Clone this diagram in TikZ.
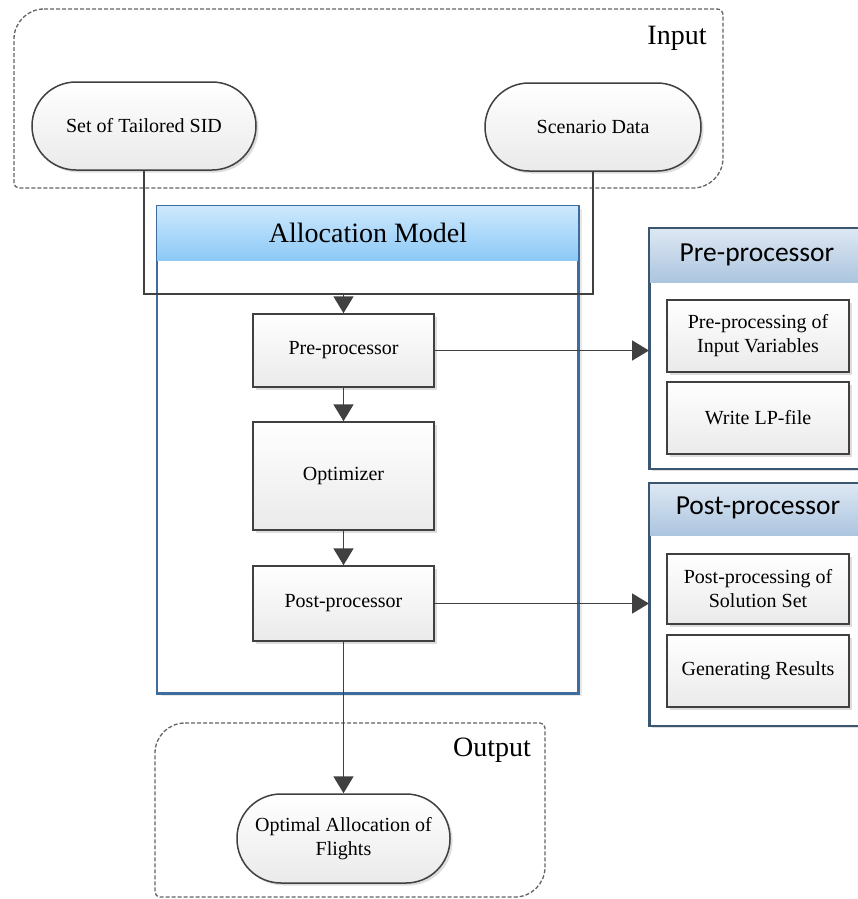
\documentclass[tikz,border=0pt]{standalone}
\usepackage{fontspec}
\setmainfont{Liberation Serif}
\newfontfamily\headsans{Carlito}
\usetikzlibrary{arrows.meta,shadows,calc}

\definecolor{linecol}{RGB}{64,64,64}
\definecolor{boxbot}{RGB}{234,234,234}
\definecolor{dashcol}{RGB}{100,100,100}
\definecolor{modelborder}{RGB}{62,108,156}
\definecolor{modeltop}{RGB}{206,233,252}
\definecolor{modelbot}{RGB}{140,201,247}
\definecolor{panelborder}{RGB}{58,86,112}
\definecolor{paneltop}{RGB}{222,232,243}
\definecolor{panelbot}{RGB}{172,197,223}

\tikzset{
  conn/.style={draw=linecol, line width=1.7pt},
  arr/.style={conn, -{Triangle[width=20pt,length=17pt]}},
  softshadow/.style={drop shadow={opacity=0.22, shadow xshift=2.5pt, shadow yshift=-2.5pt, fill=black!60}},
  stepbox/.style={draw=linecol, line width=1.5pt, top color=white, bottom color=boxbot,
    softshadow, inner sep=0pt, align=center, font=\rmfamily\fontsize{20}{24}\selectfont},
  pill/.style={stepbox, rounded corners=44pt, minimum height=88pt},
  groupline/.style={draw=dashcol, line width=1.3pt, dash pattern=on 4pt off 2pt},
  biglabel/.style={font=\rmfamily\fontsize{28}{32}\selectfont, inner sep=0pt},
  panelhead/.style={font=\headsans\fontsize{27.5}{30}\selectfont, inner sep=0pt},
}

\begin{document}
\begin{tikzpicture}[x=1pt,y=-1pt]
\clip (0,0) rectangle (858,899);
\fill[white] (0,0) rectangle (858,899);

% ---------- Input group (y grows downward, so arc angles are mirrored) ----------
\draw[groupline] (44,9) -- (717,9) arc[start angle=-90,end angle=0,radius=6]
  -- (723,158) arc[start angle=0,end angle=90,radius=30]
  -- (19,188) arc[start angle=90,end angle=180,radius=5]
  -- (14,39) arc[start angle=180,end angle=270,radius=30] -- cycle;
\node[biglabel] (inlabel) at (677,38) {Input};
\node[pill, minimum width=224pt] (sid) at (144,126) {Set of Tailored SID};
\node[pill, minimum width=216pt] (scen) at (593,127) {Scenario Data};

% ---------- Output group ----------
\draw[groupline] (185,723) -- (540,723) arc[start angle=-90,end angle=0,radius=5]
  -- (545,867) arc[start angle=0,end angle=90,radius=30]
  -- (160,897) arc[start angle=90,end angle=180,radius=5]
  -- (155,753) arc[start angle=180,end angle=270,radius=30] -- cycle;
\node[biglabel] (outlabel) at (492,750) {Output};

% ---------- Allocation Model container ----------
\node[draw=modelborder, line width=1.5pt, fill=white, minimum width=421pt, minimum height=487pt,
  inner sep=0pt, drop shadow={opacity=0.18, shadow xshift=4pt, shadow yshift=-3pt}]
  (alloc) at (367.5,449.5) {};
\shade[top color=modeltop, bottom color=modelbot]
  (alloc.north west) rectangle ([yshift=-55pt]alloc.north east);
\draw[modelborder, line width=1.5pt] (alloc.north west) rectangle (alloc.south east);
\node[biglabel] (alloctitle) at (368,233) {Allocation Model};

% ---------- Process steps ----------
\node[stepbox, minimum width=181pt, minimum height=73pt] (pre) at (343.5,350.5) {Pre-processor};
\node[stepbox, minimum width=181pt, minimum height=108pt] (opt) at (343.5,476) {Optimizer};
\node[stepbox, minimum width=181pt, minimum height=75pt] (post) at (343.5,603.5) {Post-processor};
\node[pill, minimum width=213pt, minimum height=89pt] (result) at (343.5,838.5)
  {Optimal Allocation of\\Flights};

% ---------- Pre-processor panel ----------
\node[draw=panelborder, line width=1.5pt, fill=white, minimum width=220pt, minimum height=240pt,
  inner sep=0pt, softshadow, anchor=north west] (prepanel) at (649,228) {};
\shade[top color=paneltop, bottom color=panelbot]
  (prepanel.north west) rectangle ([yshift=-54pt]prepanel.north east);
\draw[panelborder, line width=1.5pt] (prepanel.north west) rectangle (prepanel.south east);
\node[panelhead] (prehead) at (757,255) {Pre-processor};
\node[stepbox, minimum width=182pt, minimum height=72pt] (prein) at (758,336)
  {Pre-processing of\\Input Variables};
\node[stepbox, minimum width=182pt, minimum height=72pt] (prelp) at (758,418) {Write LP-file};

% ---------- Post-processor panel ----------
\node[draw=panelborder, line width=1.5pt, fill=white, minimum width=220pt, minimum height=242pt,
  inner sep=0pt, softshadow, anchor=north west] (postpanel) at (649,483) {};
\shade[top color=paneltop, bottom color=panelbot]
  (postpanel.north west) rectangle ([yshift=-52pt]postpanel.north east);
\draw[panelborder, line width=1.5pt] (postpanel.north west) rectangle (postpanel.south east);
\node[panelhead] (posthead) at (758,508) {Post-processor};
\node[stepbox, minimum width=182pt, minimum height=70pt] (postsol) at (758,589)
  {Post-processing of\\Solution Set};
\node[stepbox, minimum width=182pt, minimum height=72pt] (postgen) at (758,671) {Generating Results};

% ---------- Connectors ----------
\coordinate (merge) at (343.5,294);
\draw[conn] (sid.south) |- (merge) -| (scen.south);
\draw[arr] (merge) -- (pre.north);
\draw[arr] (pre.south) -- (opt.north);
\draw[arr] (opt.south) -- (post.north);
\draw[arr] (post.south) -- (result.north);
\draw[arr] (pre.east) -- (prepanel.west |- pre.east);
\draw[arr] (post.east) -- (postpanel.west |- post.east);
\end{tikzpicture}
\end{document}
